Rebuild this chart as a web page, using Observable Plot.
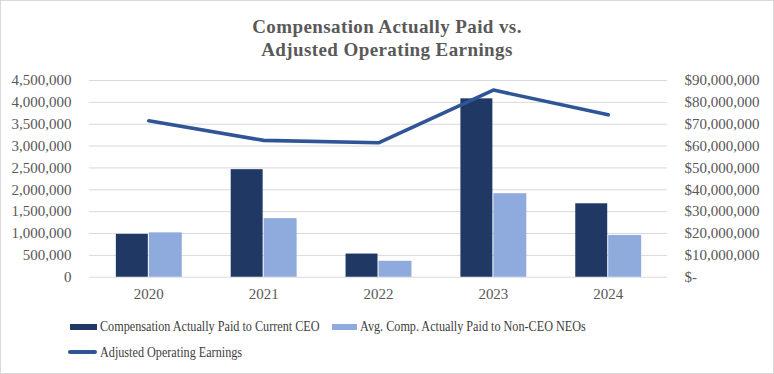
<!DOCTYPE html>
<html>
<head>
<meta charset="utf-8">
<script src="https://cdn.jsdelivr.net/npm/d3@7"></script>
<script src="https://cdn.jsdelivr.net/npm/@observablehq/plot@0.6"></script>
<style>
  html, body { margin: 0; padding: 0; background: #fff; }
  #frame { position: relative; width: 772px; height: 372px; border: 1px solid #d9d9d9; overflow: hidden; font-family: "Liberation Serif", "Times New Roman", serif; }
  #title { position: absolute; top: 14px; left: 0; width: 772px; text-align: center; font-weight: bold; font-size: 19px; line-height: 23px; color: #595959; letter-spacing: 0.4px; }
  #chart { position: absolute; top: 69px; left: -1px; }
  .leg { position: absolute; font-size: 14px; color: #404040; white-space: nowrap; line-height: 16px; }
  .lt { display: inline-block; transform: scaleX(0.87); transform-origin: left center; }
  .sw { position: absolute; }
</style>
</head>
<body>
<div id="frame">
  <div id="title">Compensation Actually Paid vs.<br>Adjusted Operating Earnings</div>
  <div id="chart"></div>
  <div class="sw" style="left:69px; top:323px; width:27px; height:6px; background:#203864;"></div>
  <div class="leg" style="left:99px; top:318px;"><span class="lt">Compensation Actually Paid to Current CEO</span></div>
  <div class="sw" style="left:331px; top:323px; width:25px; height:6px; background:#8faadc;"></div>
  <div class="leg" style="left:359px; top:318px;"><span class="lt">Avg. Comp. Actually Paid to Non-CEO NEOs</span></div>
  <div class="sw" style="left:67px; top:349px; width:29px; height:4px; border-radius:2px; background:#2f5597;"></div>
  <div class="leg" style="left:99px; top:344px;"><span class="lt">Adjusted Operating Earnings</span></div>
</div>
<script>
const years = ["2020", "2021", "2022", "2023", "2024"];
const ceoPaid = [980000, 2460000, 530000, 4080000, 1680000];
const neoPaid = [1015000, 1340000, 365000, 1910000, 955000];
const adjOpEarnings = [71600000, 62600000, 61500000, 85600000, 74300000];
const leftTicks = [0, 500000, 1000000, 1500000, 2000000, 2500000, 3000000, 3500000, 4000000, 4500000];
const rightScale = 20; // 90,000,000 / 4,500,000

const ceoData = years.map((y, i) => ({year: y, value: ceoPaid[i]}));
const neoData = years.map((y, i) => ({year: y, value: neoPaid[i]}));
const lineData = years.map((y, i) => ({year: y, value: adjOpEarnings[i] / rightScale}));

const fmt = d3.format(",");
const textColor = "#595959";

const chart = Plot.plot({
  width: 774,
  height: 240,
  marginTop: 10,
  marginBottom: 33,
  marginLeft: 89,
  marginRight: 106,
  style: { fontFamily: "'Liberation Serif', 'Times New Roman', serif", fontSize: "15px", color: textColor, background: "transparent" },
  x: { domain: years, padding: 0, label: null },
  y: { domain: [0, 4500000], label: null },
  marks: [
    Plot.gridY(leftTicks, { stroke: "#d9d9d9", strokeOpacity: 1, strokeWidth: 1 }),
    Plot.barY(ceoData, { x: "year", y: "value", fill: "#203864", insetLeft: 25, insetRight: 58 }),
    Plot.barY(neoData, { x: "year", y: "value", fill: "#8faadc", insetLeft: 58, insetRight: 24 }),
    Plot.line(lineData, { x: "year", y: "value", stroke: "#2f5597", strokeWidth: 3.6, strokeLinecap: "round", strokeLinejoin: "round" }),
    Plot.axisY(leftTicks, { anchor: "left", tickSize: 0, tickPadding: 18, tickFormat: fmt, label: null, fill: textColor }),
    Plot.axisY(leftTicks, { anchor: "right", tickSize: 0, tickPadding: 17, textAnchor: "start", tickFormat: d => d === 0 ? "$-" : "$" + fmt(d * rightScale), label: null, fill: textColor }),
    Plot.axisX(years, { tickSize: 0, tickPadding: 11, label: null, fill: textColor })
  ]
});
document.getElementById("chart").appendChild(chart);
</script>
</body>
</html>
